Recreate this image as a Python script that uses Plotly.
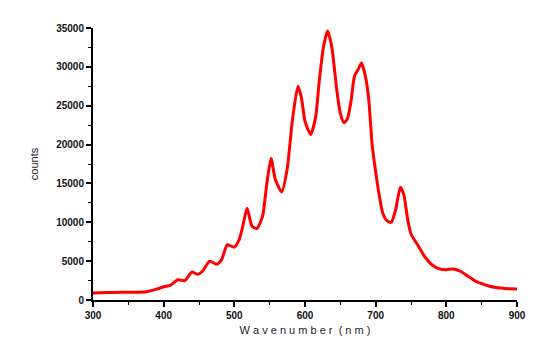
import plotly.graph_objects as go

wavelength = [300, 320, 340, 360, 375, 390, 400, 410, 420, 430, 440, 448, 455, 465, 475, 482, 490, 500,
              507, 512, 518, 525, 532, 540, 546, 552, 558, 567, 575, 582, 590, 595, 600, 608, 615,
              620, 626, 632, 638, 645, 650, 655, 660, 665, 670, 676, 680, 685, 690, 695, 700,
              705, 710, 716, 722, 728, 735, 740, 745, 750, 760, 770, 780, 790, 800, 810, 820,
              830, 840, 850, 860, 870, 880, 890, 900]
counts = [900, 950, 1000, 1000, 1050, 1400, 1700, 1900, 2600, 2500, 3600, 3300, 3700, 5000, 4600, 5200,
          7100, 6800, 7800, 9500, 11800, 9500, 9200, 10800, 15000, 18200, 15500, 13900, 17000, 23000,
          27500, 26000, 23000, 21300, 23500, 28000, 32500, 34600, 32500, 27000, 24000, 22800, 23300,
          25500, 28800, 29800, 30500, 29000, 26000, 20000, 16500, 13500, 11200, 10200, 10000, 11500,
          14500, 13500, 10500, 8500, 7000, 5500, 4500, 4000, 3900, 4000, 3700, 3100, 2500, 2100, 1800,
          1600, 1500, 1450, 1420]

x_ticks = [300, 400, 500, 600, 700, 800, 900]
y_ticks = [0, 5000, 10000, 15000, 20000, 25000, 30000, 35000]

fig = go.Figure()
fig.add_trace(go.Scatter(x=wavelength, y=counts, mode="lines",
                         line=dict(color="#ff0000", width=3, shape="spline", smoothing=0.6),
                         showlegend=False))

axis_common = dict(showline=True, linecolor="black", linewidth=2, showgrid=False, zeroline=False,
                   ticks="outside", ticklen=5, tickwidth=2, tickcolor="black", automargin=False,
                   tickfont=dict(family="Arial", size=10, color="#111111", weight="bold"))
fig.update_xaxes(range=[300, 900], tickvals=x_ticks, ticktext=[str(v) for v in x_ticks],
                 minor=dict(dtick=50, ticks="outside", ticklen=3, tickwidth=1, tickcolor="black"),
                 title=dict(text="W a v e n u m b e r  ( n m )", font=dict(family="Arial", size=11, color="#222222"), standoff=6),
                 **axis_common)
fig.update_yaxes(range=[0, 35000], tickvals=y_ticks, ticktext=[str(v) for v in y_ticks],
                 minor=dict(dtick=2500, ticks="outside", ticklen=3, tickwidth=1, tickcolor="black"),
                 title=dict(text="counts", font=dict(family="Arial", size=11, color="#222222"), standoff=15),
                 **axis_common)
fig.update_layout(width=538, height=358, margin=dict(l=85, r=29, t=20, b=66),
                  paper_bgcolor="white", plot_bgcolor="white")
fig.write_html("out.html")
